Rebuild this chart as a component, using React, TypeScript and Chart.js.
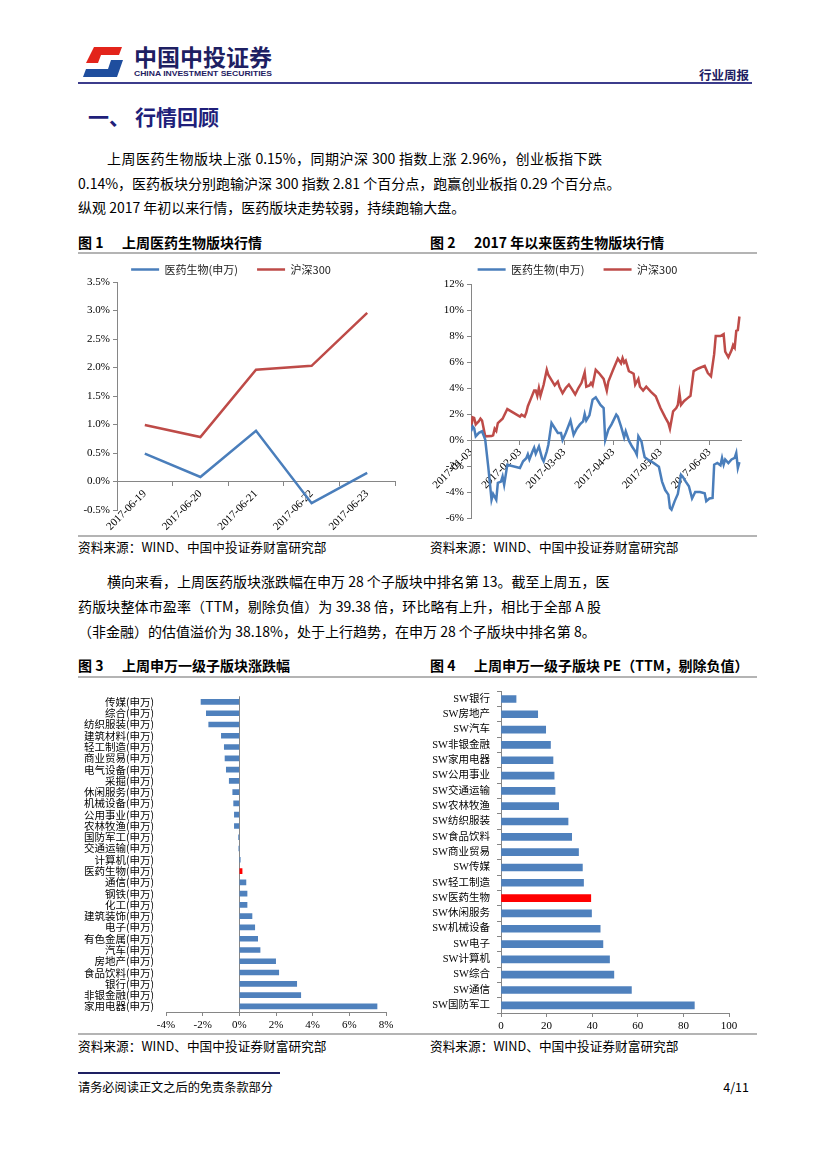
import React, { useEffect, useRef } from "react";
import { Chart, registerables } from "chart.js";
Chart.register(...registerables);

const SERIF = '"Liberation Serif", "Times New Roman", serif';
const CJK = '"Noto Sans CJK SC", "Noto Sans", sans-serif';
const SERIF_CJK = '"Liberation Serif", "Noto Sans CJK SC", serif';
const AXIS = "#868686";
const LINE_BLUE = "#4A7EBB";
const LINE_RED = "#BE4B48";
const BAR_BLUE = "#4F81BD";
const BAR_RED = "#FF0000";
const NAVY = "#1E2062";

// 图1 上周医药生物版块行情
const weekDates = ["2017-06-19", "2017-06-20", "2017-06-21", "2017-06-22", "2017-06-23"];
const weekYiyao = [0.49, 0.08, 0.89, -0.38, 0.15];
const weekHs300 = [0.99, 0.78, 1.96, 2.03, 2.96];

// 图2 2017年以来医药生物版块行情 (x = calendar days since 2017-01-03)
const ytdTickDays = [0, 31, 59, 90, 120, 151];
const ytdTickLabels = ["2017-01-03", "2017-02-03", "2017-03-03", "2017-04-03", "2017-05-03", "2017-06-03"];
const ytdLastDay = 171;
const hs300Days = [0, 1, 2, 3, 5, 6, 7, 9, 13, 14, 15, 16, 17, 20, 23, 31, 32, 34, 35, 36, 38, 40, 41, 42, 43, 44, 46, 48, 49, 51, 53, 55, 56, 58, 60, 62, 64, 66, 68, 70, 72, 73, 75, 76, 77, 79, 81, 84, 86, 87, 90, 93, 95, 96, 97, 98, 100, 103, 104, 106, 107, 109, 111, 114, 117, 120, 123, 125, 126, 128, 130, 131, 132, 133, 135, 137, 139, 141, 144, 148, 150, 152, 154, 155, 158, 160, 161, 163, 165, 166, 167, 168, 169, 170];
const hs300Pct = [0.7, 1.75, 1.7, 1.2, 1.45, 1.64, 1.5, 0.28, 0.3, 0.36, 0.87, 0.7, 1.3, 1.64, 2.38, 1.8, 1.95, 1.8, 2.1, 2.6, 3.2, 3.8, 3.8, 3.4, 4.0, 3.4, 4.25, 5.4, 5.0, 4.6, 4.2, 4.5, 4.1, 3.6, 4.0, 4.26, 3.9, 3.5, 4.0, 4.4, 5.2, 4.1, 4.2, 4.4, 4.2, 5.4, 5.15, 4.7, 3.8, 4.5, 5.4, 6.26, 5.9, 6.3, 5.95, 6.1, 5.3, 5.1, 4.26, 4.7, 4.1, 3.8, 4.1, 3.7, 3.36, 2.46, 1.74, 1.3, 0.87, 2.2, 2.46, 2.7, 3.6, 2.7, 3.0, 3.2, 3.4, 5.3, 5.5, 5.7, 5.15, 4.9, 6.6, 8.0, 8.0, 8.15, 6.8, 6.36, 6.9, 7.3, 7.1, 8.4, 8.45, 9.5];
const yiyaoDays = [0, 1, 2, 3, 5, 7, 9, 11, 13, 14, 16, 17, 19, 20, 21, 23, 31, 33, 35, 36, 37, 39, 40, 41, 43, 45, 46, 48, 49, 51, 53, 55, 57, 58, 60, 63, 65, 67, 69, 71, 72, 73, 75, 77, 79, 82, 84, 85, 87, 89, 92, 93, 95, 97, 98, 100, 102, 104, 105, 106, 108, 109, 110, 112, 114, 116, 119, 121, 123, 125, 126, 127, 129, 131, 133, 134, 136, 138, 140, 142, 145, 148, 149, 151, 153, 154, 156, 158, 159, 160, 161, 163, 165, 167, 168, 169, 170];
const yiyaoPct = [0.67, 1.05, 0.9, 0.28, 0.55, 0.67, 0.03, -2.15, -4.6, -4.15, -4.6, -3.3, -3.2, -2.8, -3.44, -1.9, -2.15, -1.64, -1.4, -1.1, -1.5, -0.87, -0.6, -1.05, -0.5, -1.4, -1.64, -0.87, -0.36, 1.3, 0.92, 0.54, 0.54, 0.0, 0.54, 1.5, 0.4, 0.87, 1.2, 1.44, 2.0, 1.5, 1.9, 3.1, 3.28, 2.7, 2.46, 0.0, 0.8, 1.2, 1.95, 1.8, 1.05, 0.2, 0.67, -0.05, -0.5, -0.87, -1.13, 0.28, -0.13, -0.77, -1.33, -1.5, -1.64, -1.8, -2.05, -3.2, -3.85, -4.2, -5.23, -5.36, -4.7, -4.15, -2.67, -2.8, -3.2, -3.56, -4.5, -4.0, -4.0, -4.1, -4.7, -4.5, -4.46, -1.9, -1.77, -1.95, -1.38, -1.9, -1.5, -1.77, -1.5, -1.38, -1.0, -2.15, -1.7];

// 图3 上周申万一级子版块涨跌幅 (%)
const swNames = ["传媒(申万)", "综合(申万)", "纺织服装(申万)", "建筑材料(申万)", "轻工制造(申万)", "商业贸易(申万)", "电气设备(申万)", "采掘(申万)", "休闲服务(申万)", "机械设备(申万)", "公用事业(申万)", "农林牧渔(申万)", "国防军工(申万)", "交通运输(申万)", "计算机(申万)", "医药生物(申万)", "通信(申万)", "钢铁(申万)", "化工(申万)", "建筑装饰(申万)", "电子(申万)", "有色金属(申万)", "汽车(申万)", "房地产(申万)", "食品饮料(申万)", "银行(申万)", "非银金融(申万)", "家用电器(申万)"];
const swChange = [-2.09, -1.8, -1.67, -0.98, -0.82, -0.78, -0.71, -0.55, -0.36, -0.31, -0.27, -0.27, -0.04, -0.02, 0.05, 0.15, 0.36, 0.42, 0.42, 0.69, 0.84, 1.0, 1.13, 1.98, 2.15, 3.13, 3.35, 7.51];

// 图4 上周申万一级子版块 PE（TTM，剔除负值）
const peNames = ["SW银行", "SW房地产", "SW汽车", "SW非银金融", "SW家用电器", "SW公用事业", "SW交通运输", "SW农林牧渔", "SW纺织服装", "SW食品饮料", "SW商业贸易", "SW传媒", "SW轻工制造", "SW医药生物", "SW休闲服务", "SW机械设备", "SW电子", "SW计算机", "SW综合", "SW通信", "SW国防军工"];
const peValues = [6.6, 16.1, 19.6, 21.7, 22.8, 23.3, 23.7, 25.3, 29.4, 31.0, 34.0, 35.7, 36.2, 39.38, 39.7, 43.5, 44.7, 47.6, 49.5, 57.2, 84.8];

const HIGHLIGHT = "医药生物";

function ChartBox({ left, top, width, height, build }: any) {
  const ref = useRef<HTMLCanvasElement>(null);
  useEffect(() => {
    const chart = new Chart(ref.current as HTMLCanvasElement, build());
    return () => chart.destroy();
  }, []);
  return (
    <div style={{ position: "absolute", left, top, width, height }}>
      <canvas ref={ref} width={width} height={height} style={{ width, height, display: "block" }} />
    </div>
  );
}

const tickFont = { family: SERIF, size: 11 };

function legendOpts(maxHeight: number) {
  return {
    position: "top",
    maxHeight,
    labels: {
      usePointStyle: true,
      pointStyle: "line",
      pointStyleWidth: 28,
      boxHeight: 11,
      padding: 8,
      color: "#222",
      font: { family: CJK, size: 11 },
      generateLabels: (chart: any) =>
        (Chart.defaults.plugins.legend.labels.generateLabels as any)(chart).map((l: any) => ({
          ...l,
          text: l.text + "\u2003",
        })),
    },
  };
}

const buildWeek = () => ({
  type: "line",
  data: {
    labels: weekDates,
    datasets: [
      { label: "医药生物(申万)", data: weekYiyao, borderColor: LINE_BLUE, backgroundColor: LINE_BLUE, borderWidth: 2.5, pointRadius: 0, tension: 0 },
      { label: "沪深300", data: weekHs300, borderColor: LINE_RED, backgroundColor: LINE_RED, borderWidth: 2.5, pointRadius: 0, tension: 0 },
    ],
  },
  options: {
    animation: false,
    responsive: false,
    events: [],
    layout: { padding: { left: 0, right: 20, top: 0, bottom: 25 } },
    plugins: { legend: legendOpts(26), tooltip: { enabled: false } },
    scales: {
      x: {
        type: "category",
        offset: true,
        position: { y: 0 },
        grid: { offset: true, drawOnChartArea: false, tickLength: 4, color: AXIS },
        border: { color: AXIS },
        ticks: { autoSkip: false, minRotation: 45, maxRotation: 45, font: tickFont, color: "#000", padding: 2 },
      },
      y: {
        min: -0.5,
        max: 3.5,
        grid: { drawOnChartArea: false, tickLength: 4, color: AXIS },
        border: { color: AXIS },
        ticks: { stepSize: 0.5, font: tickFont, color: "#000", padding: 3, callback: (v: number) => v.toFixed(1) + "%" },
        afterFit: (s: any) => { s.width = 39; },
      },
    },
  },
});

const buildYtd = () => ({
  type: "line",
  data: {
    datasets: [
      { label: "医药生物(申万)", data: yiyaoDays.map((d, i) => ({ x: d, y: yiyaoPct[i] })), borderColor: LINE_BLUE, backgroundColor: LINE_BLUE, borderWidth: 2.5, pointRadius: 0, tension: 0 },
      { label: "沪深300", data: hs300Days.map((d, i) => ({ x: d, y: hs300Pct[i] })), borderColor: LINE_RED, backgroundColor: LINE_RED, borderWidth: 2.5, pointRadius: 0, tension: 0 },
    ],
  },
  options: {
    animation: false,
    responsive: false,
    events: [],
    layout: { padding: { left: 0, right: 19, top: 0, bottom: 17 } },
    plugins: { legend: legendOpts(28), tooltip: { enabled: false } },
    scales: {
      x: {
        type: "linear",
        min: 0,
        max: ytdLastDay,
        position: { y: 0 },
        afterBuildTicks: (axis: any) => { axis.ticks = ytdTickDays.map((v) => ({ value: v })); },
        grid: { drawOnChartArea: false, tickLength: 4, color: AXIS },
        border: { color: AXIS },
        ticks: {
          autoSkip: false, minRotation: 45, maxRotation: 45, font: tickFont, color: "#000", padding: 2,
          callback: (v: number) => ytdTickLabels[ytdTickDays.indexOf(v)] ?? "",
        },
      },
      y: {
        min: -6,
        max: 12,
        grid: { drawOnChartArea: false, tickLength: 4, color: AXIS },
        border: { color: AXIS },
        ticks: { stepSize: 2, font: tickFont, color: "#000", padding: 3, callback: (v: number) => v + "%" },
        afterFit: (s: any) => { s.width = 46; },
      },
    },
  },
});

const buildSw = () => ({
  type: "bar",
  data: {
    labels: swNames,
    datasets: [{ data: swChange, backgroundColor: swNames.map((n) => (n.startsWith(HIGHLIGHT) ? BAR_RED : BAR_BLUE)), barThickness: 5 }],
  },
  options: {
    indexAxis: "y",
    animation: false,
    responsive: false,
    events: [],
    layout: { padding: { left: 0, right: 29, top: 12, bottom: 0 } },
    plugins: { legend: { display: false }, tooltip: { enabled: false } },
    scales: {
      x: {
        min: -4,
        max: 8,
        grid: { color: (c: any) => (c.tick && c.tick.value === 0 ? AXIS : "rgba(0,0,0,0)"), tickColor: AXIS, tickLength: 4 },
        border: { color: AXIS },
        ticks: { stepSize: 2, font: tickFont, color: "#000", padding: 3, callback: (v: number) => v + "%" },
        afterFit: (s: any) => { s.height = 20; },
      },
      y: {
        grid: { display: false, drawTicks: false },
        border: { display: false },
        ticks: { autoSkip: false, font: { family: CJK, size: 10.5 }, color: "#000", padding: 12 },
        afterFit: (s: any) => { s.width = 88; },
      },
    },
  },
});

const buildPe = () => ({
  type: "bar",
  data: {
    labels: peNames,
    datasets: [{ data: peValues, backgroundColor: peNames.map((n) => (n.includes(HIGHLIGHT) ? BAR_RED : BAR_BLUE)), barThickness: 7 }],
  },
  options: {
    indexAxis: "y",
    animation: false,
    responsive: false,
    events: [],
    layout: { padding: { left: 0, right: 31, top: 5, bottom: 0 } },
    plugins: { legend: { display: false }, tooltip: { enabled: false } },
    scales: {
      x: {
        min: 0,
        max: 100,
        grid: { drawOnChartArea: false, tickLength: 4, color: AXIS },
        border: { color: AXIS },
        ticks: { stepSize: 20, font: tickFont, color: "#000", padding: 3 },
        afterFit: (s: any) => { s.height = 19; },
      },
      y: {
        grid: { drawOnChartArea: false, offset: true, tickLength: 4, color: AXIS },
        border: { color: AXIS },
        ticks: { autoSkip: false, font: { family: SERIF_CJK, size: 10.5 }, color: "#000", padding: 7 },
        afterFit: (s: any) => { s.width = 76; },
      },
    },
  },
});

function Txt({ x, y, size, children, bold, color = "#000", family = CJK, w, justify, right, spacing }: any) {
  const lh = Math.round(size * 1.4);
  const style: any = {
    position: "absolute",
    top: y - lh / 2,
    fontSize: size,
    lineHeight: lh + "px",
    fontWeight: bold ? 700 : 400,
    color,
    fontFamily: family,
    whiteSpace: "nowrap",
    letterSpacing: spacing,
  };
  if (right) { style.right = 827 - x; } else { style.left = x; }
  if (w) {
    style.width = w;
    if (justify) { style.textAlign = "justify"; style.textAlignLast = "justify"; }
  }
  return <div style={style}>{children}</div>;
}

function HLine({ x1, x2, y, color, h = 1.5 }: any) {
  return <div style={{ position: "absolute", left: x1, top: y - h / 2, width: x2 - x1, height: h, background: color }} />;
}

function FigTitle({ x, y, n, text }: any) {
  return (
    <>
      <Txt x={x} y={y} size={14} bold>{"图 " + n}</Txt>
      <Txt x={x + 44} y={y} size={14} bold>{text}</Txt>
    </>
  );
}

const SRC = "资料来源：WIND、中国中投证券财富研究部";
const GRAY = "#B4B4B4";
const P = 14;

export default function App() {
  return (
    <div style={{ position: "absolute", left: 0, top: 0, width: 827, height: 1169, background: "#fff", overflow: "hidden" }}>
      {/* header */}
      <svg style={{ position: "absolute", left: 0, top: 0 }} width={827} height={100}>
        <polygon points="94,47 122,47 119,55 101,55 98,63 86,63" fill="#E3241B" />
        <polygon points="111,60 123,60 117,77 83,77 86,69 108,69" fill="#1F4E9E" />
        <text x={134} y={66} fontFamily={CJK} fontWeight={700} fontSize={22.5} fill={NAVY} textLength={138} lengthAdjust="spacingAndGlyphs">中国中投证券</text>
        <text x={134} y={76} fontFamily='"Liberation Sans", Arial, sans-serif' fontWeight={700} fontSize={7.6} fill={NAVY} textLength={138} lengthAdjust="spacingAndGlyphs">CHINA INVESTMENT SECURITIES</text>
      </svg>
      <Txt x={749} y={75} size={12.5} bold color={NAVY} right>行业周报</Txt>
      <HLine x1={78} x2={752} y={83} color="#3C3C8C" h={1.5} />

      {/* section heading */}
      <Txt x={88} y={116} size={21} bold color="#1F1F7A">一、</Txt>
      <Txt x={135} y={116} size={21} bold color="#1F1F7A">行情回顾</Txt>

      <Txt x={107} y={158} size={P} w={495} justify>上周医药生物版块上涨 0.15%，同期沪深 300 指数上涨 2.96%，创业板指下跌</Txt>
      <Txt x={78} y={183} size={P} w={542} justify>0.14%，医药板块分别跑输沪深 300 指数 2.81 个百分点，跑赢创业板指 0.29 个百分点。</Txt>
      <Txt x={78} y={207} size={P}>纵观 2017 年初以来行情，医药版块走势较弱，持续跑输大盘。</Txt>

      <FigTitle x={78} y={242} n={1} text="上周医药生物版块行情" />
      <FigTitle x={430} y={242} n={2} text="2017 年以来医药生物版块行情" />
      <HLine x1={78} x2={757} y={253} color={GRAY} h={2} />

      <ChartBox left={78} top={256} width={337} height={279} build={buildWeek} />
      <ChartBox left={425} top={256} width={335} height={279} build={buildYtd} />

      <HLine x1={78} x2={757} y={536} color={GRAY} h={2} />
      <Txt x={78} y={547} size={12.7}>{SRC}</Txt>
      <Txt x={430} y={547} size={12.7}>{SRC}</Txt>

      <Txt x={107} y={581} size={P} w={494} justify>横向来看，上周医药版块涨跌幅在申万 28 个子版块中排名第 13。截至上周五，医</Txt>
      <Txt x={78} y={606} size={P} w={523} justify>药版块整体市盈率（TTM，剔除负值）为 39.38 倍，环比略有上升，相比于全部 A 股</Txt>
      <Txt x={78} y={631} size={P}>（非金融）的估值溢价为 38.18%，处于上行趋势，在申万 28 个子版块中排名第 8。</Txt>

      <FigTitle x={78} y={665} n={3} text="上周申万一级子版块涨跌幅" />
      <FigTitle x={430} y={665} n={4} text="上周申万一级子版块 PE（TTM，剔除负值）" />
      <HLine x1={78} x2={757} y={677} color={GRAY} h={2} />

      <ChartBox left={78} top={678} width={337} height={354} build={buildSw} />
      <ChartBox left={425} top={678} width={335} height={354} build={buildPe} />

      <HLine x1={78} x2={757} y={1034} color={GRAY} h={2} />
      <Txt x={78} y={1046} size={12.7}>{SRC}</Txt>
      <Txt x={430} y={1046} size={12.7}>{SRC}</Txt>

      <HLine x1={78} x2={280} y={1073} color={NAVY} h={1.5} />
      <Txt x={78} y={1087} size={12.2}>请务必阅读正文之后的免责条款部分</Txt>
      <Txt x={749} y={1087} size={12.5} right>4/11</Txt>
    </div>
  );
}
